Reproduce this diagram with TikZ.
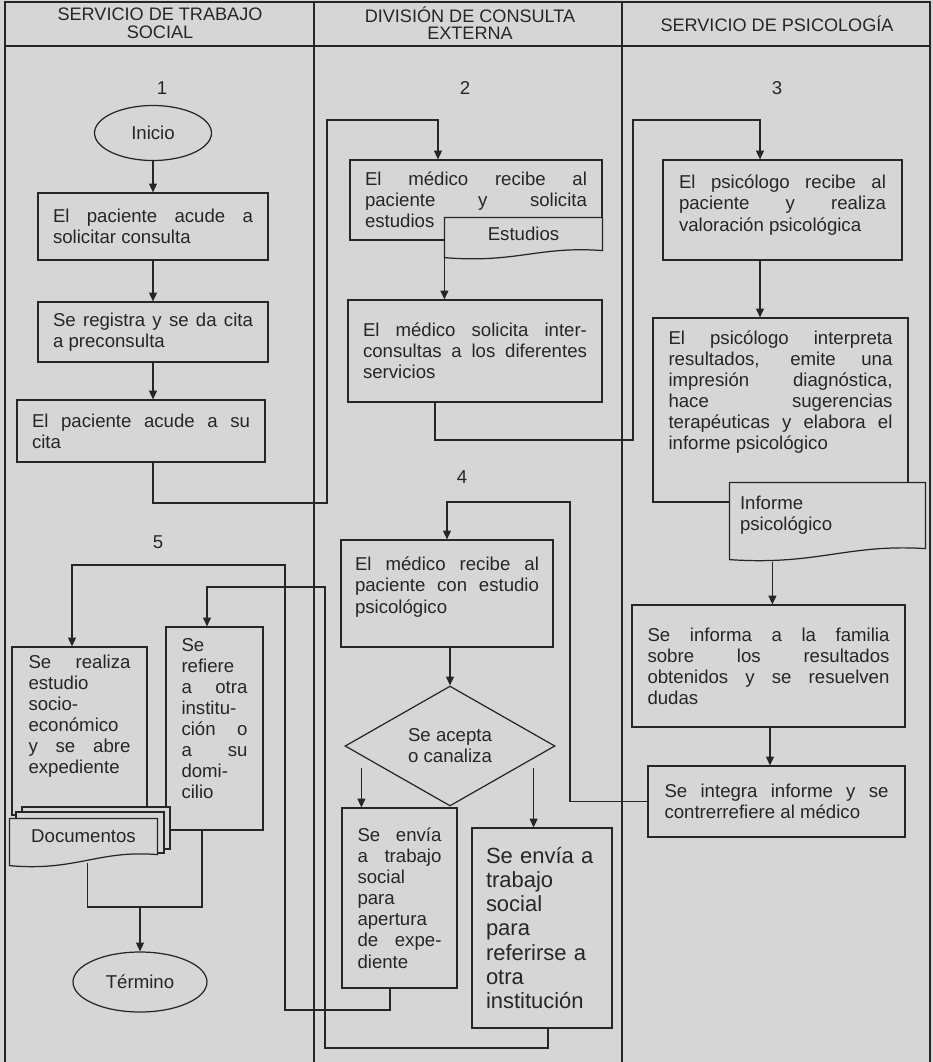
\documentclass[tikz,border=0pt]{standalone}
\usepackage{fontspec}
\setmainfont{Liberation Sans}
\usetikzlibrary{shapes.geometric,arrows.meta,calc}

\definecolor{papel}{gray}{0.84}
\definecolor{tinta}{gray}{0.15}

\hyphenpenalty=10000

\newcommand{\hueco}[1]{\par\vspace*{#1}}
% documento: relleno de la onda y contorno
\newcommand{\ondadoc}[2]{%
  \fill [papel] (#1.south west) -- ($(#1.south west)+(0,#2)$)
    .. controls ($(#1.south west)!0.45!(#1.south east)+(0,#2+6)$) and ($(#1.south west)!0.6!(#1.south east)+(0,-5)$) .. (#1.south east) -- cycle;
  \draw (#1.south west) -- (#1.north west) -- (#1.north east) -- (#1.south east)
    .. controls ($(#1.south west)!0.6!(#1.south east)+(0,-5)$) and ($(#1.south west)!0.45!(#1.south east)+(0,#2+6)$) .. ($(#1.south west)+(0,#2)$) -- cycle;}

\tikzset{
  caja/.style={rectangle, draw, fill=papel, align=justify, inner xsep=1pt, inner ysep=2pt, font=\fontsize{10.6}{12}\selectfont},
  extremo/.style={ellipse, draw, fill=papel, inner sep=0pt, font=\fontsize{10.6}{12}\selectfont},
  decide/.style={diamond, aspect=1.75, draw, fill=papel, inner sep=0pt, align=center, font=\fontsize{10.6}{12}\selectfont},
  hoja/.style={rectangle, fill=papel, inner sep=1pt, font=\fontsize{10.6}{12}\selectfont},
  cabeza/.style={align=center, font=\fontsize{10.3}{10}\selectfont},
  numero/.style={font=\fontsize{10.6}{12}\selectfont},
  flecha/.style={-{Triangle[length=5pt,width=4.5pt]}},
}

\begin{document}
\begin{tikzpicture}[x=0.02cm, y=-0.02cm, color=tinta, line width=0.7pt]
\path [fill=papel, use as bounding box] (0,0) rectangle (933,1062);
% carriles
\draw (5,1062) -- (5,2) -- (930,2) -- (930,1062);
\draw [line width=1pt] (5,46) -- (930,46);
\draw (314,2) -- (314,1062);
\draw (622,2) -- (622,1062);
\node [cabeza] (cab1) at (160,23) {SERVICIO DE TRABAJO\\SOCIAL};
\node [cabeza] (cab2) at (470,23) {DIVISIÓN DE CONSULTA\\EXTERNA};
\node [cabeza] (cab3) at (777,24) {SERVICIO DE PSICOLOGÍA};
\node [numero] (n1) at (162,88) {1};
\node [numero] (n2) at (465,88) {2};
\node [numero] (n3) at (777,88) {3};
\node [numero] (n4) at (462,477) {4};
\node [numero] (n5) at (158,542) {5};

% trabajo social
\node [extremo, minimum width=2.34cm, minimum height=1.1cm] (inicio) at (153,133) {Inicio};
\node [caja, minimum width=4.6cm, minimum height=1.34cm, text width=4cm] (paso1) at (153,226.5) {El paciente acude a\linebreak solicitar consulta};
\node [caja, minimum width=4.6cm, minimum height=1.2cm, text width=4cm] (paso2) at (153,332) {Se registra y se da cita\linebreak a preconsulta};
\node [caja, minimum width=4.96cm, minimum height=1.24cm, text width=4.36cm] (paso3) at (141,431) {El paciente acude a su\linebreak cita};
\node [caja, minimum width=2.7cm, minimum height=3.36cm, text width=2.04cm] (realiza) at (79.5,731) {Se realiza\linebreak estudio\linebreak socio-\linebreak económico\linebreak y se abre\linebreak expediente\hueco{0.6cm}};
\node [caja, minimum width=1.94cm, minimum height=4.06cm, text width=1.32cm] (refiere) at (214.5,728.5) {Se\linebreak refiere\linebreak a otra\linebreak institu-\linebreak ción o\linebreak a su\linebreak domi-\linebreak cilio\hueco{0.4cm}};
\draw [fill=papel] (22,807) rectangle (170,849);
\draw [fill=papel] (16,812) rectangle (164,853);
\node [hoja, minimum width=2.94cm, minimum height=0.7cm] (docs) at (83.5,836.5) {Documentos};
\ondadoc{docs}{11}
\node [extremo, minimum width=2.68cm, minimum height=1.2cm] (termino) at (140,982) {Término};

% consulta externa
\node [caja, minimum width=5.04cm, minimum height=1.6cm, text width=4.44cm] (medico1) at (476,200) {El médico recibe al\linebreak paciente y solicita\linebreak estudios};
\node [hoja, minimum width=3.14cm, minimum height=0.64cm] (estud) at (523.5,234) {Estudios};
\ondadoc{estud}{7}
\node [caja, minimum width=5.08cm, minimum height=2.04cm, text width=4.48cm] (medico2) at (475,351) {El médico solicita inter-\linebreak consultas a los diferentes\linebreak servicios};
\node [caja, minimum width=4.24cm, minimum height=2.14cm, text width=3.68cm] (medico3) at (447,593.5) {El médico recibe al\linebreak paciente con estudio\linebreak psicológico\hueco{0.26cm}};
\node [decide, minimum width=4.2cm, minimum height=2.4cm] (decision) at (450,746) {Se acepta\\o canaliza};
\node [caja, minimum width=2.3cm, minimum height=3.6cm, text width=1.68cm] (apert) at (399.5,898) {Se envía\linebreak a trabajo\linebreak social\linebreak para\linebreak apertura\linebreak de expe-\linebreak diente};
\node [caja, align=left, font=\fontsize{12.5}{13.8}\selectfont, minimum width=2.8cm, minimum height=4cm, text width=2.24cm] (instit) at (542,928) {Se envía a\\trabajo\\social\\para\\referirse a\\otra\\institución};

% psicologia
\node [caja, minimum width=4.78cm, minimum height=2cm, text width=4.14cm] (psico1) at (782.5,210) {El psicólogo recibe al\linebreak paciente y realiza\linebreak valoración psicológica\hueco{0.2cm}};
\node [caja, minimum width=5.1cm, minimum height=3.68cm, text width=4.48cm] (psico2) at (780.5,410) {El psicólogo interpreta\linebreak resultados, emite una\linebreak impresión diagnóstica,\linebreak hace sugerencias\linebreak terapéuticas y elabora el\linebreak informe psicológico\hueco{0.72cm}};
\node [hoja, align=left, text width=3.5cm, minimum width=3.9cm, minimum height=1.3cm] (informe) at (827.5,515.5) {Informe\\psicológico};
\ondadoc{informe}{11}
\node [caja, minimum width=5.46cm, minimum height=2.44cm, text width=4.84cm] (familia) at (768.5,666) {Se informa a la familia\linebreak sobre los resultados\linebreak obtenidos y se resuelven\linebreak dudas};
\node [caja, minimum width=5.14cm, minimum height=1.42cm, text width=4.48cm] (integra) at (776.5,801.5) {Se integra informe y se\linebreak contrerrefiere al médico};

% conectores
\coordinate (estpie) at ($(estud.south west)+(0,7)$);
\coordinate (infpie) at ($(informe.south west)+(43,13)$);
\coordinate (docpie) at ($(docs.south west)+(78,8)$);
\coordinate (junta) at (140,907);
\coordinate (decizq) at ($(decision.west)+(17,22)$);
\coordinate (decder) at ($(decision.east)+(-22,22)$);
\draw [flecha] (inicio) -- (paso1);
\draw [flecha] (paso1) -- (paso2);
\draw [flecha] (paso2.south) -- (paso2.south |- paso3.north);
\draw [flecha] (paso3.south -| paso2.south) |- (327,503) |- (438,120) -- (438,0 |- medico1.north);
\draw [flecha] (estpie) -- (estpie |- medico2.north);
\draw [flecha] (435,0 |- medico2.south) |- (633,440) |- (760,120) -- (760,0 |- psico1.north);
\draw [flecha] (760,0 |- psico1.south) -- (760,0 |- psico2.north);
\draw [flecha] (infpie) -- (infpie |- familia.north);
\draw [flecha] (770,0 |- familia.south) -- (770,0 |- integra.north);
\draw [flecha] (integra.west) -| (570,502) -| (medico3.north);
\draw [flecha] (decision.north |- medico3.south) -- (decision.north);
\draw [flecha] (decizq) -- (decizq |- apert.north);
\draw [flecha] (decder) -- (decder |- instit.north);
\draw [flecha] (390,0 |- apert.south) |- (285,1010) |- (72,565) -- (72,0 |- realiza.north);
\draw [flecha] (548,0 |- instit.south) |- (325,1048) |- (207,587) -- (207,0 |- refiere.north);
\draw (docpie) |- (junta) -| (202,0 |- refiere.south);
\draw [flecha] (junta) -- (termino);
\end{tikzpicture}
\end{document}
